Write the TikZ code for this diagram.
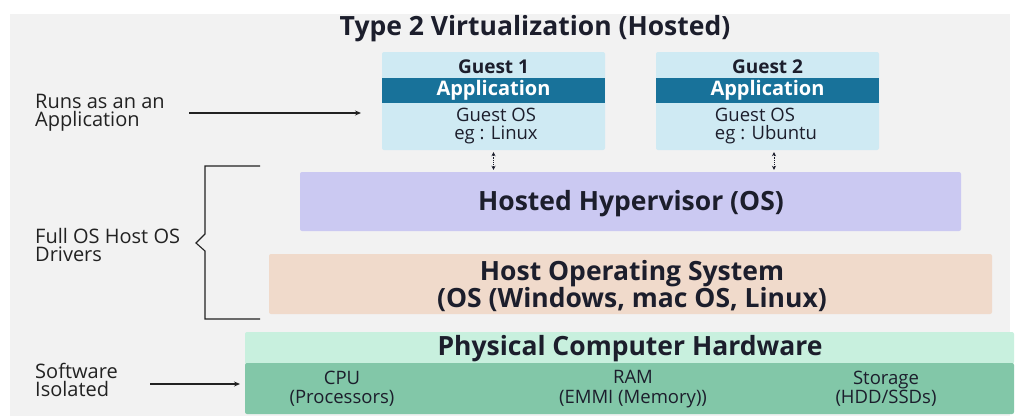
\documentclass[tikz,border=0pt]{standalone}
\usepackage{fontspec}
\setmainfont{Open Sans}
\usetikzlibrary{arrows.meta}
\definecolor{bgc}{HTML}{F2F2F2}
\definecolor{guestc}{HTML}{CFEAF3}
\definecolor{appc}{HTML}{18729A}
\definecolor{hypc}{HTML}{CBC9F2}
\definecolor{hostc}{HTML}{F0DACB}
\definecolor{hwtopc}{HTML}{C8F0DE}
\definecolor{hwbotc}{HTML}{82C7A8}
\definecolor{txtc}{HTML}{1C1E2C}
\definecolor{lblc}{HTML}{222222}
\begin{document}
\begin{tikzpicture}[x=1pt,y=-1pt,
  layer/.style={rectangle, inner sep=0pt, rounded corners=2pt},
  lbl/.style={inner sep=0pt, anchor=west, align=left, text=lblc, font=\fontsize{20}{18}\selectfont},
  big/.style={inner sep=0pt, text=txtc, font=\fontsize{26.5}{27}\selectfont\bfseries, align=center},
  small/.style={inner sep=0pt, text=txtc, font=\fontsize{18.5}{18}\selectfont},
  arr/.style={-{Stealth[length=6pt,width=5pt]}, line width=1.1pt, draw=lblc},
  dbl/.style={{Stealth[length=4pt,width=4pt]}-{Stealth[length=4pt,width=4pt]}, densely dotted, line width=0.9pt, draw=txtc}]
\useasboundingbox (0,0) rectangle (1016,416);
\fill[white] (0,0) rectangle (1016,416);
\fill[bgc] (10,14) rectangle (1010,416);

% title
\node[big] (title) at (535,29) {Type 2 Virtualization (Hosted)};

% guests
\node[layer, fill=guestc, minimum width=223pt, minimum height=98pt] (g1) at (493.5,101) {};
\node[layer, rounded corners=0pt, fill=appc, minimum width=223pt, minimum height=25pt] (g1app) at (493.5,90.5) {};
\node[small, font=\fontsize{19}{16}\selectfont\bfseries] (g1t) at (493.5,67) {Guest 1};
\node[small, text=white, font=\fontsize{20}{16}\selectfont\bfseries] (g1a) at (493.5,90.5) {Application};
\node[small, align=center] (g1os) at (496,126) {Guest OS\\eg : Linux};

\node[layer, fill=guestc, minimum width=223pt, minimum height=98pt] (g2) at (767.5,101) {};
\node[layer, rounded corners=0pt, fill=appc, minimum width=223pt, minimum height=25pt] (g2app) at (767.5,90.5) {};
\node[small, font=\fontsize{19}{16}\selectfont\bfseries] (g2t) at (767.5,67) {Guest 2};
\node[small, text=white, font=\fontsize{20}{16}\selectfont\bfseries] (g2a) at (767.5,90.5) {Application};
\node[small, align=left] (g2os) at (766,126) {Guest OS\\eg : Ubuntu};

% hypervisor
\node[layer, fill=hypc, minimum width=661pt, minimum height=59pt] (hv) at (630.5,201.5) {};
\node[big] (hvt) at (631,204) {Hosted Hypervisor (OS)};

% host OS
\node[layer, fill=hostc, minimum width=723pt, minimum height=60pt] (host) at (630.5,284) {};
\node[big] (hostt) at (632,286) {Host Operating System\\(OS (Windows, mac OS, Linux)};

% hardware
\node[layer, fill=hwtopc, minimum width=769pt, minimum height=32pt] (hwtop) at (629.5,348) {};
\node[layer, fill=hwbotc, minimum width=769pt, minimum height=51pt] (hwbot) at (629.5,388.5) {};
\node[big] (hwt) at (630,349) {Physical Computer Hardware};
\node[small, align=center, font=\fontsize{18.5}{19.5}\selectfont] (cpu) at (342,389) {CPU\\(Processors)};
\node[small, align=center, font=\fontsize{18.5}{19.5}\selectfont] (ram) at (633,389) {RAM\\(EMMI (Memory))};
\node[small, align=center, font=\fontsize{18.5}{19.5}\selectfont] (sto) at (886,389) {Storage\\(HDD/SSDs)};

% dotted double arrows
\draw[dbl] ([yshift=-2pt]g1.south) -- ([yshift=2pt]hv.north -| g1.south);
\draw[dbl] ([xshift=6.5pt,yshift=-2pt]g2.south) -- ([xshift=6.5pt,yshift=2pt]hv.north -| g2.south);

% left labels
\node[lbl] (runs) at (35,113) {Runs as an an\\Application};
\node[lbl] (full) at (35,245) {Full OS Host OS\\Drivers};
\node[lbl] (soft) at (35,380) {Software\\Isolated};

\coordinate (ra) at (189,113);
\coordinate (rb) at (361,113);
\draw[arr] (ra) -- (rb);
\coordinate (sa) at (150,384);
\coordinate (sb) at (240,384);
\draw[arr] (sa) -- (sb);

% bracket
\coordinate (bt) at (260,166);
\coordinate (bb) at (260,319);
\draw[line width=1.1pt, draw=lblc] (bt) -- (205,166) -- (205,234) -- (196,243) -- (205,251) -- (205,319) -- (bb);
\end{tikzpicture}
\end{document}
